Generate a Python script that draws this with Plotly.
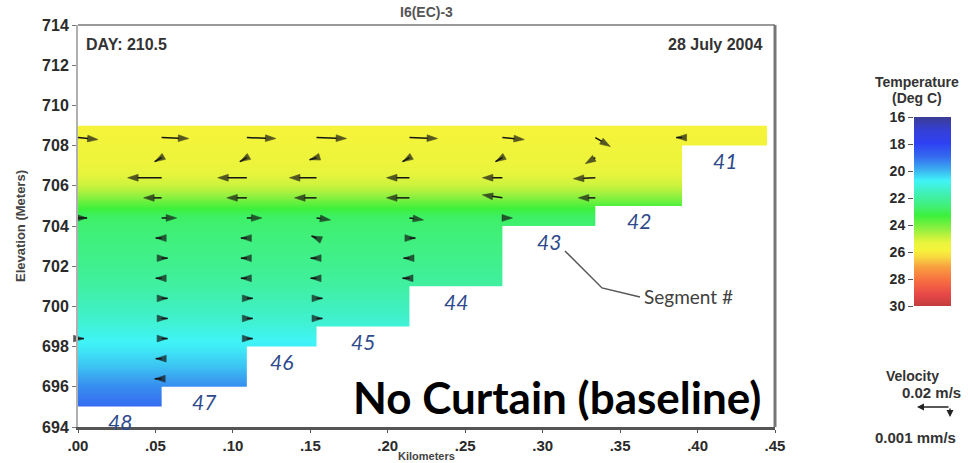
import plotly.graph_objects as go

# ---------------- data ----------------
SEGMENTS = [48, 47, 46, 45, 44, 43, 42, 41]
SEG_EDGES_KM = [0.0, 0.054, 0.109, 0.154, 0.214, 0.274, 0.334, 0.390, 0.445]
SEG_BOTTOM_M = [695, 696, 698, 699, 701, 704, 705, 708]
WATER_SURFACE_M = 709

# vertical temperature profile (deg C)
PROFILE_ELEV_M = [695, 696, 697, 698, 698.5, 699, 700, 701, 702, 703, 704, 704.5,
                  705, 705.5, 706, 706.5, 707, 708, 709]
PROFILE_TEMP_C = [18.9, 19.4, 20.1, 20.6, 20.8, 21.1, 21.5, 21.9, 22.2, 22.4, 22.6, 22.8,
                  23.5, 24.3, 24.9, 25.2, 25.4, 25.6, 25.8]

# velocity vectors at upstream face of each segment, layer by layer from the top
ARROW_ELEV_M = [708.4, 707.4, 706.4, 705.4, 704.4, 703.4, 702.4, 701.4,
                700.4, 699.4, 698.4, 697.4, 696.4, 695.4]
N = None
U_SEG48 = [0.0121, N, N, N, 0.0055, N, -0.0030, N, -0.0030, N, 0.0036, N, N, N]
W_SEG48 = [-0.0002, 0, 0, 0, 0, 0, 0, 0, 0, 0, 0, 0, 0, 0]
U_SEG47 = [0.0164, -0.0042, -0.0206, -0.0109, 0.0091, -0.0036, 0.0036, -0.0036,
           0.0036, 0.0036, 0.0036, -0.0036, -0.0042]
W_SEG47 = [-0.0001, -0.0004, 0, 0, 0, 0, 0, 0, 0, 0, 0, 0, 0]
U_SEG46 = [0.0176, -0.0042, -0.0176, -0.0121, 0.0091, -0.0036, -0.0036, -0.0036,
           0.0036, 0.0036, 0.0036]
W_SEG46 = [-0.0001, -0.0004, 0, 0, 0, 0, 0, 0, 0, 0, 0]
U_SEG45 = [0.0182, -0.0042, -0.0164, -0.0133, 0.0085, -0.0030, -0.0036, -0.0036,
           0.0036, 0.0036]
W_SEG45 = [-0.0001, -0.0002, 0, 0, -0.0002, 0.0002, 0, 0, 0, 0]
U_SEG44 = [0.0170, -0.0042, -0.0139, -0.0139, 0.0085, 0.0036, -0.0036, -0.0042]
W_SEG44 = [-0.0001, -0.0004, 0, 0, -0.0002, 0, 0, 0]
U_SEG43 = [0.0133, -0.0042, -0.0121, -0.0121, 0.0061]
W_SEG43 = [-0.0002, -0.0004, 0, 0.0003, 0]
U_SEG42 = [0.0091, -0.0061, -0.0133, -0.0103]
W_SEG42 = [-0.0009, -0.0006, -0.0001, 0]
U_SEG41 = [-0.0036]
W_SEG41 = [0]

U_REF_MS = 0.02      # legend: 0.02 m/s
W_REF_MMS = 0.001    # legend: 0.001 mm/s

CBAR_TICKS = [16, 18, 20, 22, 24, 26, 28, 30]
X_TICKS = [0, 0.05, 0.10, 0.15, 0.20, 0.25, 0.30, 0.35, 0.40, 0.45]
X_TICK_LABELS = [".00", ".05", ".10", ".15", ".20", ".25", ".30", ".35", ".40", ".45"]
Y_TICKS = [694, 696, 698, 700, 702, 704, 706, 708, 710, 712, 714]

# ---------------- styling / geometry ----------------
W, H = 968, 463
ML, MR, MT, MB = 78, 10, 25, 36
PW = W - ML - MR
PH = H - MT - MB
MAIN_RIGHT_PX = 775
XMAX, YMIN, YMAX = 0.45, 694, 714
PX_PER_KM = (MAIN_RIGHT_PX - ML) / XMAX
PX_PER_M = PH / (YMAX - YMIN)
U_SCALE_PX = 33 / U_REF_MS     # px per m/s
W_SCALE_PX = 10 / W_REF_MMS    # px per mm/s

COLORSCALE = [
    [0.00, "#3a3c96"], [0.07, "#3540d8"], [0.135, "#2e40f2"], [0.205, "#3468f0"],
    [0.27, "#3aa8f0"], [0.335, "#40f4f8"], [0.39, "#40f0c0"], [0.46, "#40f080"],
    [0.52, "#3cf03c"], [0.59, "#90f040"], [0.66, "#e8f43c"], [0.70, "#f6f43a"],
    [0.74, "#f8d840"], [0.79, "#f8a040"], [0.86, "#f87040"], [0.935, "#e84848"],
    [1.0, "#c03c3c"],
]

FONT = "Liberation Sans, Arial, sans-serif"

fig = go.Figure()

# temperature field
fig.add_trace(go.Contour(
    x=SEG_EDGES_KM, y=PROFILE_ELEV_M,
    z=[[t] * len(SEG_EDGES_KM) for t in PROFILE_TEMP_C],
    colorscale=COLORSCALE, zmin=16, zmax=30,
    contours=dict(coloring="heatmap", showlines=False),
    line=dict(width=0), showscale=False, hoverinfo="skip",
    xaxis="x", yaxis="y",
))

# colour bar drawn as a heatmap on its own axes
fig.add_trace(go.Heatmap(
    x=[0, 1], y=CBAR_TICKS, z=[[t, t] for t in CBAR_TICKS],
    colorscale=COLORSCALE, zmin=16, zmax=30, zsmooth="best",
    showscale=False, hoverinfo="skip", xaxis="x2", yaxis="y2",
))

# velocity vectors
U_ALL = [U_SEG48, U_SEG47, U_SEG46, U_SEG45, U_SEG44, U_SEG43, U_SEG42, U_SEG41]
W_ALL = [W_SEG48, W_SEG47, W_SEG46, W_SEG45, W_SEG44, W_SEG43, W_SEG42, W_SEG41]
ax_, ay_, sizes, syms = [], [], [], []
for i, (us, ws) in enumerate(zip(U_ALL, W_ALL)):
    x0 = SEG_EDGES_KM[i]
    for k, (u, w) in enumerate(zip(us, ws)):
        if u is None:
            continue
        y0 = ARROW_ELEV_M[k]
        x1 = x0 + u * U_SCALE_PX / PX_PER_KM
        y1 = y0 + (w or 0) * W_SCALE_PX / PX_PER_M
        ax_ += [x0, x1, None]
        ay_ += [y0, y1, None]
        sizes += [0, 11, 0]
        syms += ["circle", "arrow", "circle"]
fig.add_trace(go.Scatter(
    x=ax_, y=ay_, mode="lines+markers", connectgaps=False,
    line=dict(color="#151515", width=1.5),
    marker=dict(symbol=syms, size=sizes, color="#151515", angleref="previous",
                line=dict(width=0.6, color="#151515")),
    hoverinfo="skip", xaxis="x", yaxis="y", cliponaxis=False,
))

shapes = []
# blank out the bed below each segment (overlapping masks avoid seams)
for i, bottom in enumerate(SEG_BOTTOM_M):
    if bottom > min(PROFILE_ELEV_M):
        shapes.append(dict(type="rect", xref="x", yref="y",
                           x0=SEG_EDGES_KM[i], x1=XMAX - 0.002,
                           y0=min(PROFILE_ELEV_M) - 0.05, y1=bottom,
                           fillcolor="white", line=dict(width=0), layer="above"))
# frame top and right
shapes.append(dict(type="line", xref="x domain", yref="y domain", x0=0, x1=1, y0=1, y1=1,
                   line=dict(color="#9a9a9a", width=2)))
shapes.append(dict(type="line", xref="x domain", yref="y domain", x0=1, x1=1, y0=0, y1=1,
                   line=dict(color="#777777", width=3)))
# leader line for "Segment #"
shapes.append(dict(type="path", xref="x", yref="y",
                   path="M 0.3144,702.76 L 0.3383,700.92 L 0.3628,700.47",
                   line=dict(color="#555555", width=1.5)))

annotations = []
# segment numbers
for i, seg in enumerate(SEGMENTS):
    annotations.append(dict(
        x=(SEG_EDGES_KM[i] + SEG_EDGES_KM[i + 1]) / 2, y=SEG_BOTTOM_M[i] - 0.75,
        xref="x", yref="y", text=str(seg), showarrow=False,
        font=dict(family="Lato, sans-serif", size=21, color="#2E4A8B", style="italic")))

annotations += [
    dict(x=0.3628, y=700.47, xref="x", yref="y", xanchor="left", yanchor="middle",
         xshift=2, text="Segment #", showarrow=False,
         font=dict(family="Lato, sans-serif", size=19, color="#404040")),
    dict(x=1, y=0.075, xref="x domain", yref="y domain", xanchor="right", yanchor="middle",
         xshift=-12, text="No Curtain (baseline)", showarrow=False,
         font=dict(family="Lato, sans-serif", size=44, color="#000000", weight="bold")),
    dict(x=0.5, y=1, xref="x domain", yref="y domain", xanchor="center", yanchor="bottom",
         yshift=3, text="I6(EC)-3", showarrow=False,
         font=dict(family=FONT, size=14, color="#555555", weight="bold")),
    dict(x=0, y=1, xref="x domain", yref="y domain", xanchor="left", yanchor="top",
         xshift=6, yshift=-9, text="DAY: 210.5", showarrow=False,
         font=dict(family=FONT, size=16, color="#333333", weight="bold")),
    dict(x=1, y=1, xref="x domain", yref="y domain", xanchor="right", yanchor="top",
         xshift=-11, yshift=-9, text="28 July 2004", showarrow=False,
         font=dict(family=FONT, size=16, color="#333333", weight="bold")),
    dict(x=0.5, y=(H - MB - 456) / PH, xref="x domain", yref="paper",
         xanchor="center", yanchor="middle", text="Kilometers", showarrow=False,
         font=dict(family=FONT, size=11, color="#444444", weight="bold")),
    dict(x=(917 - ML) / PW, y=(H - MB - 82) / PH, xref="paper", yref="paper",
         text="Temperature", showarrow=False, xanchor="center", yanchor="middle",
         font=dict(family=FONT, size=14, color="#333333", weight="bold")),
    dict(x=(917 - ML) / PW, y=(H - MB - 98) / PH, xref="paper", yref="paper",
         text="(Deg C)", showarrow=False, xanchor="center", yanchor="middle",
         font=dict(family=FONT, size=14, color="#333333", weight="bold")),
    dict(x=(912 - ML) / PW, y=(H - MB - 376) / PH, xref="paper", yref="paper",
         text="Velocity", showarrow=False, xanchor="center", yanchor="middle",
         font=dict(family=FONT, size=14, color="#333333", weight="bold")),
    dict(x=(963 - ML) / PW, y=(H - MB - 392) / PH, xref="paper", yref="paper",
         text=f"{U_REF_MS:.2f} m/s", showarrow=False, xanchor="right", yanchor="middle",
         font=dict(family=FONT, size=15, color="#333333", weight="bold")),
    dict(x=(958 - ML) / PW, y=(H - MB - 437) / PH, xref="paper", yref="paper",
         text=f"{W_REF_MMS:.3f} mm/s", showarrow=False, xanchor="right", yanchor="middle",
         font=dict(family=FONT, size=15, color="#333333", weight="bold")),
]

# legend arrows (lengths from the same scales as the vectors)
corner_px_x, corner_px_y = 950, 407
lu = U_REF_MS * U_SCALE_PX
lw = W_REF_MMS * W_SCALE_PX
annotations.append(dict(x=(corner_px_x - lu - ML) / PW, y=(H - MB - corner_px_y) / PH,
                        xref="paper", yref="paper", ax=lu, ay=0,
                        text="", showarrow=True, arrowhead=2, arrowsize=1, arrowwidth=1.4,
                        arrowcolor="#222", font=dict(size=1)))
annotations.append(dict(x=(corner_px_x - ML) / PW, y=(H - MB - corner_px_y - lw) / PH,
                        xref="paper", yref="paper", ax=0, ay=-lw,
                        text="", showarrow=True, arrowhead=2, arrowsize=1, arrowwidth=1.4,
                        arrowcolor="#222", font=dict(size=1)))

fig.update_layout(
    width=W, height=H, margin=dict(l=ML, r=MR, t=MT, b=MB),
    paper_bgcolor="white", plot_bgcolor="white", showlegend=False,
    xaxis=dict(domain=[0, (MAIN_RIGHT_PX - ML) / PW], range=[0, XMAX], automargin=False,
               tickvals=X_TICKS, ticktext=X_TICK_LABELS, ticks="outside", ticklen=3,
               tickcolor="#555", showline=True, linecolor="#555", linewidth=3,
               showgrid=False, zeroline=False,
               tickfont=dict(family=FONT, size=15, color="#2a2a2a", weight="bold")),
    yaxis=dict(range=[YMIN, YMAX], tickvals=Y_TICKS, ticks="outside", ticklen=4,
               automargin=False,
               tickcolor="#777", showline=True, linecolor="#b0b0b0", linewidth=2,
               showgrid=False, zeroline=False,
               tickfont=dict(family=FONT, size=16, color="#2a2a2a", weight="bold"),
               title=dict(text="Elevation (Meters)", standoff=14,
                          font=dict(family=FONT, size=13, color="#444", weight="bold"))),
    xaxis2=dict(domain=[(914 - ML) / PW, (951 - ML) / PW], range=[-0.5, 1.5],
                anchor="y2", visible=False),
    yaxis2=dict(domain=[(H - MB - 306) / PH, (H - MB - 117) / PH], range=[30, 16],
                anchor="x2", side="left", tickvals=CBAR_TICKS, ticks="outside", ticklen=5,
                automargin=False,
                tickcolor="#555", showgrid=False, zeroline=False, showline=False,
                tickfont=dict(family=FONT, size=14, color="#2a2a2a", weight="bold")),
    shapes=shapes, annotations=annotations,
)

fig.write_html("out.html", config={"displayModeBar": False},
               post_script="document.body.style.margin='0';document.body.style.overflow='hidden';")
